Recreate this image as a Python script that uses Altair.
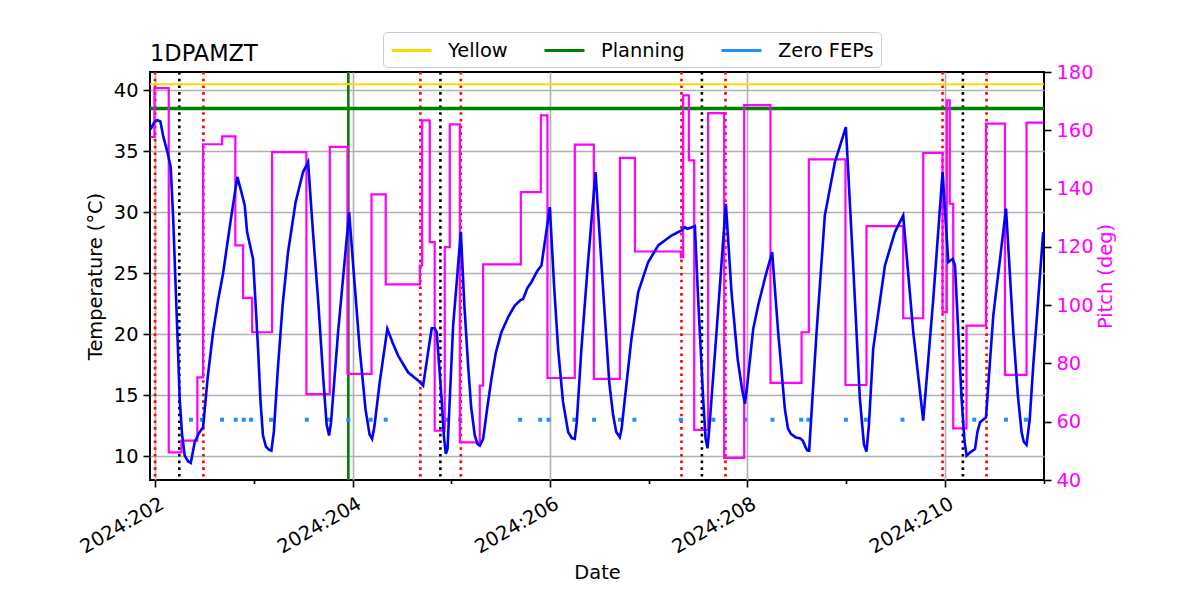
import altair as alt
import pandas as pd

# ---------------- data ----------------
temp_day = [201.95, 201.99, 202.02, 202.05, 202.08, 202.12, 202.155, 202.18, 202.2, 202.225,
            202.246, 202.27, 202.297, 202.33, 202.358, 202.375, 202.398, 202.44, 202.483, 202.53,
            202.584, 202.635, 202.685, 202.76, 202.83, 202.87, 202.905, 202.929, 202.989, 203.015,
            203.04, 203.065, 203.09, 203.12, 203.15, 203.175, 203.2, 203.243, 203.29, 203.344,
            203.42, 203.496, 203.547, 203.6, 203.648, 203.7, 203.735, 203.76, 203.78, 203.851,
            203.963, 204.015, 204.07, 204.13, 204.17, 204.196, 204.22, 204.273, 204.35, 204.4,
            204.459, 204.56, 204.662, 204.69, 204.713, 204.763, 204.8, 204.83, 204.85, 204.875,
            204.9, 204.925, 204.943, 204.96, 205.017, 205.095, 205.13, 205.169, 205.2, 205.237,
            205.265, 205.287, 205.321, 205.36, 205.405, 205.45, 205.506, 205.58, 205.642, 205.7,
            205.726, 205.77, 205.81, 205.87, 205.912, 205.997, 206.04, 206.081, 206.13, 206.183,
            206.22, 206.25, 206.27, 206.317, 206.38, 206.46, 206.554, 206.6, 206.639,
            206.67, 206.706, 206.725, 206.757, 206.824, 206.892, 206.993, 207.095, 207.23, 207.331,
            207.365, 207.392, 207.43, 207.467, 207.5, 207.551, 207.575, 207.595, 207.615, 207.686,
            207.781, 207.838, 207.9, 207.945, 207.974, 208.0, 208.058, 208.108, 208.18, 208.25,
            208.311, 208.379, 208.41, 208.44, 208.49, 208.531, 208.56, 208.582, 208.605, 208.625,
            208.66, 208.7, 208.784, 208.886, 208.997, 209.071, 209.139, 209.18, 209.206, 209.23,
            209.274, 209.393, 209.494, 209.578, 209.68, 209.781, 209.883, 209.977, 210.035, 210.079,
            210.103, 210.17, 210.2, 210.221, 210.26, 210.306, 210.33, 210.357, 210.417, 210.491,
            210.62, 210.694, 210.74, 210.778, 210.8, 210.828, 210.86, 210.896, 210.997]
temp_val = [36.8, 37.4, 37.55, 37.45, 36.2, 35.0, 33.7, 29.5, 25.0, 19.5,
            14.7, 11.8, 10.06, 9.6, 9.46, 10.2, 11.15, 11.9, 12.38, 16.5,
            20.17, 22.8, 24.96, 29.2, 32.9, 31.7, 30.57, 28.38, 26.19, 22.5,
            18.81, 14.5, 11.7, 10.8, 10.55, 10.47, 12.0, 17.44, 22.5, 26.73,
            30.8, 33.3, 34.12, 28.0, 22.9, 16.5, 12.6, 11.7, 12.8, 20.17,
            30.0, 24.5, 18.8, 13.8, 11.8, 11.43, 12.5, 16.07, 20.45, 19.4,
            18.26, 16.89, 16.21, 16.0, 15.8, 18.53, 20.5, 20.5, 20.2, 17.5,
            14.7, 11.5, 10.2, 10.6, 20.7, 28.4, 22.5, 17.44, 14.0, 11.7,
            11.0, 10.88, 11.43, 13.8, 16.35, 18.5, 20.17, 21.5, 22.36, 22.8,
            22.9, 23.8, 24.27, 25.2, 25.64, 30.43, 24.0, 18.81, 14.5, 11.97,
            11.5, 11.43, 12.8, 18.81, 25.5, 33.3, 21.54, 16.0, 13.34,
            12.0, 11.56, 12.3, 14.7, 19.63, 23.45, 25.91, 27.28, 28.1, 28.52,
            28.79, 28.65, 28.75, 28.87, 22.9, 14.7, 11.5, 10.66, 12.5, 20.17,
            30.7, 23.45, 18.0, 15.5, 14.3, 16.0, 20.45, 22.36, 24.7, 26.73,
            20.17, 13.88, 12.3, 11.84, 11.55, 11.48, 11.3, 10.88, 10.5, 10.47,
            15.0, 20.17, 29.75, 34.12, 36.99, 25.64, 14.7, 11.0, 10.39, 12.5,
            18.81, 25.64, 28.38, 29.75, 20.17, 12.93, 22.9, 33.3, 25.91, 26.19,
            25.64, 14.7, 11.2, 10.06, 10.35, 10.6, 12.0, 12.79, 13.2, 21.54,
            30.3, 20.17, 15.0, 11.97, 11.2, 10.93, 13.0, 17.44, 28.38]

pitch_day = [201.95, 201.99, 202.135, 202.263, 202.425, 202.483, 202.675, 202.81, 202.888, 202.98,
             203.182, 203.53, 203.767, 203.946, 204.19, 204.334, 204.68, 204.703, 204.78, 204.83,
             204.932, 204.983, 205.085, 205.287, 205.321, 205.703, 205.906, 205.973, 206.25, 206.443,
             206.707, 206.859, 207.325, 207.348, 207.406, 207.46, 207.601, 207.764, 207.967, 208.233,
             208.548, 208.622, 208.993, 209.206, 209.578, 209.781, 209.977, 210.02, 210.05, 210.085,
             210.22, 210.417, 210.609, 210.828, 211.0]
pitch_val = [157.7, 174.5, 49.5, 53.5, 75.2, 155.2, 157.9, 120.5, 102.5, 90.7,
             152.5, 69.5, 154.3, 76.4, 138.0, 107.1, 113.6, 163.4, 121.6, 56.9,
             119.9, 162.0, 52.9, 72.4, 114.0, 138.8, 165.1, 75.0, 155.1, 74.7,
             150.5, 118.4, 116.5, 172.0, 149.7, 57.2, 165.9, 47.6, 168.6, 73.3,
             90.7, 150.0, 72.6, 127.1, 95.5, 152.2, 97.6, 170.3, 134.8, 57.7,
             93.0, 162.3, 76.1, 162.6, 162.6]

red_days = [201.996, 202.486, 204.685, 205.095, 207.331, 207.777, 209.977, 210.423]
black_days = [202.242, 204.888, 207.538, 210.183]
green_days = [203.955]

fep_days = [202.361, 202.472, 202.675, 202.814, 202.895, 202.969, 203.172, 203.534, 203.753,
            203.955, 204.182, 204.334, 204.953, 205.088, 205.696, 205.899, 205.983, 206.246,
            206.446, 206.709, 206.854, 207.325, 207.655, 207.774, 207.977, 208.253, 208.544,
            208.618, 208.997, 209.2, 209.571, 210.298, 210.619, 210.822]
fep_level = 13.0

limit_names = ["Yellow", "Planning"]
limit_values = [40.5, 38.5]
legend_names = ["Yellow", "Planning", "Zero FEPs"]
legend_colors = ["#ffd700", "#008000", "#1e90ff"]

x_ticks = list(range(202, 212))
temp_ticks = [10, 15, 20, 25, 30, 35, 40]
pitch_ticks = [40, 60, 80, 100, 120, 140, 160, 180]

# ---------------- chart ----------------
W, H = 894, 408
FONT = "DejaVu Sans"
FS = 19.4
MAGENTA = "#ff00ff"

temp_df = pd.DataFrame({"day": temp_day, "temp": temp_val})
pitch_df = pd.DataFrame({"day": pitch_day, "pitch": pitch_val})
red_df = pd.DataFrame({"day": red_days})
black_df = pd.DataFrame({"day": black_days})
green_df = pd.DataFrame({"day": green_days})
fep_df = pd.DataFrame({"day": fep_days, "temp": [fep_level] * len(fep_days),
                       "name": ["Zero FEPs"] * len(fep_days)})
yellow_df = pd.DataFrame({"name": limit_names[:1], "temp": limit_values[:1]})
plan_df = pd.DataFrame({"name": limit_names[1:], "temp": limit_values[1:]})

even = "datum.value % 2 == 0"
xaxis = alt.Axis(
    values=x_ticks,
    labelExpr=f"{even} ? '2024:' + datum.value : ''",
    labelAngle=330, labelAlign="right", labelBaseline="top",
    labelPadding=7, titlePadding=7, labelOffset=2,
    grid=True,
    gridOpacity={"condition": {"test": even, "value": 1}, "value": 0},
    tickSize={"condition": {"test": even, "value": 7}, "value": 3.5},
)
xscale = alt.Scale(domain=[201.945, 211.005], nice=False, zero=False)
X = alt.X("day:Q", scale=xscale, axis=xaxis, title="Date")

tscale = alt.Scale(domain=[8.06, 41.5], nice=False, zero=False)
taxis = alt.Axis(orient="left", values=temp_ticks, grid=True, title="Temperature (°C)",
                 titlePadding=8, labelPadding=5, tickSize=7)
Yt = alt.Y("temp:Q", scale=tscale, axis=taxis)

pscale = alt.Scale(domain=[40, 180], nice=False, zero=False)
paxis = alt.Axis(orient="right", values=pitch_ticks, grid=False, title="Pitch (deg)",
                 labelColor=MAGENTA, titleColor=MAGENTA, titleAngle=270,
                 titlePadding=22, labelPadding=5, tickSize=7)

color_scale = alt.Scale(domain=legend_names, range=legend_colors)
legend = alt.Legend(
    orient="none", legendX=233, legendY=-40, direction="horizontal", title=None,
    symbolType="M-1,0H3", symbolSize=400, symbolStrokeWidth=3,
    labelFontSize=FS, labelFont=FONT, labelOffset=35, columnPadding=30,
    strokeColor="#cccccc", fillColor="white", padding=7, cornerRadius=4,
)
C = alt.Color("name:N", scale=color_scale, legend=legend)

yellow = alt.Chart(yellow_df).mark_rule(strokeWidth=2).encode(y=Yt, color=C)
planning = alt.Chart(plan_df).mark_rule(strokeWidth=3.5).encode(y=Yt, color=C)

dots = [2.6, 4.1]
red_v = alt.Chart(red_df).mark_rule(color="#ff0000", strokeWidth=2.6, strokeDash=dots).encode(x=X)
black_v = alt.Chart(black_df).mark_rule(color="#000000", strokeWidth=2.6, strokeDash=dots).encode(x=X)
green_v = alt.Chart(green_df).mark_rule(color="#008000", strokeWidth=2.6).encode(x=X)

fep = alt.Chart(fep_df).mark_square(size=16, opacity=1, filled=True).encode(x=X, y=Yt, color=C)

left_group = alt.layer(red_v, black_v, green_v, yellow, planning, fep)

pitch = alt.Chart(pitch_df).mark_line(interpolate="step-after", color=MAGENTA, strokeWidth=2.2).encode(
    x=X, y=alt.Y("pitch:Q", scale=pscale, axis=paxis))

blue = alt.Chart(temp_df).mark_line(color="#0000ff", strokeWidth=2.6).encode(
    x=X, y=alt.Y("temp:Q", scale=tscale, axis=None))

chart = alt.layer(left_group, pitch, blue).resolve_scale(y="independent").properties(
    width=W, height=H,
    autosize=alt.AutoSizeParams(type="none"),
    padding={"left": 142, "top": 64, "right": 148, "bottom": 112},
    title=alt.TitleParams("1DPAMZT", anchor="start", frame="group", fontSize=22.5, font=FONT,
                          fontWeight="normal", offset=-34, color="black"),
).configure_view(stroke="black", strokeWidth=2).configure_axis(
    labelFont=FONT, titleFont=FONT, labelFontSize=FS, titleFontSize=FS,
    titleFontWeight="normal", labelColor="black", titleColor="black",
    tickColor="black", tickWidth=1.6, domain=False,
    gridColor="#b0b0b0", gridWidth=1.6,
)

chart.save("out.html", embed_options={"renderer": "svg", "actions": False})
